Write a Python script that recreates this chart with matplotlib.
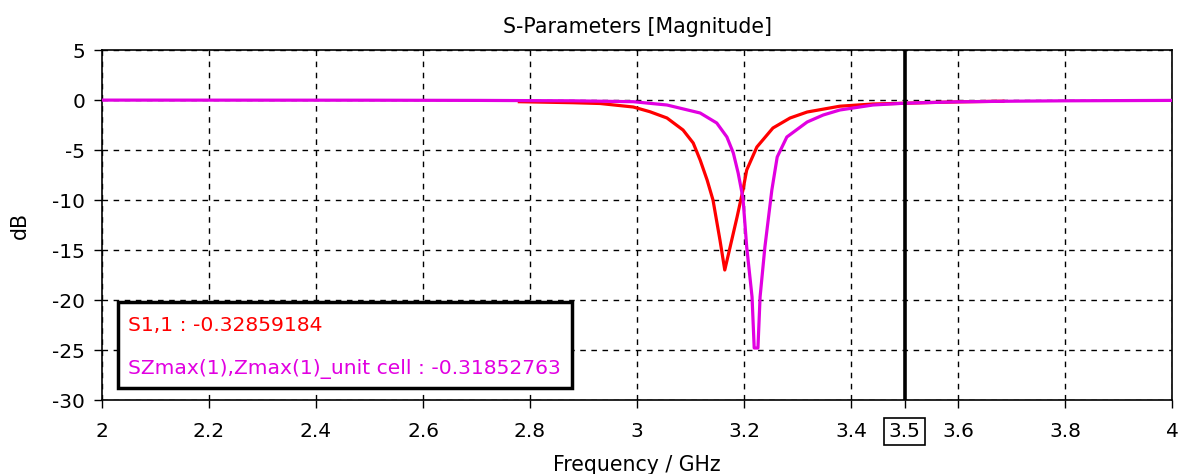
import matplotlib
matplotlib.use("Agg")
import matplotlib.pyplot as plt

# S1,1 of the full structure (red trace), frequency in GHz, magnitude in dB
freq_s11 = [2.78, 2.88, 2.931, 2.993, 3.024, 3.056, 3.086, 3.105, 3.118,
            3.131, 3.142, 3.155, 3.164, 3.174, 3.187, 3.198, 3.205, 3.224,
            3.254, 3.286, 3.318, 3.379, 3.441, 3.5, 3.55, 3.60, 3.684]
s11_db = [-0.17, -0.27, -0.35, -0.7, -1.17, -1.8, -3.0, -4.3, -6.0,
          -8.0, -10.0, -14.0, -17.0, -14.7, -11.7, -9.0, -7.0, -4.7,
          -2.8, -1.8, -1.2, -0.62, -0.4, -0.32859184, -0.25, -0.19, -0.12]

# SZmax(1),Zmax(1) of the unit cell (magenta trace)
freq_cell = [2.0, 2.5, 2.707, 2.88, 2.993, 3.056, 3.118, 3.149, 3.168,
             3.180, 3.189, 3.198, 3.205, 3.215, 3.219, 3.226, 3.230, 3.239,
             3.252, 3.262, 3.280, 3.318, 3.348, 3.379, 3.441, 3.5, 3.6, 3.7,
             3.8, 4.0]
cell_db = [-0.01, -0.02, -0.04, -0.08, -0.17, -0.5, -1.3, -2.3, -3.7,
           -5.3, -7.3, -9.8, -14.7, -19.7, -24.8, -24.8, -19.7, -14.7,
           -9.0, -5.7, -3.7, -2.2, -1.5, -1.0, -0.5, -0.31852763, -0.18,
           -0.12, -0.08, -0.04]

marker_freq = 3.5
x_ticks = [2, 2.2, 2.4, 2.6, 2.8, 3, 3.2, 3.4, 3.5, 3.6, 3.8, 4]
x_tick_labels = ["2", "2.2", "2.4", "2.6", "2.8", "3", "3.2", "3.4", "3.5",
                 "3.6", "3.8", "4"]
y_ticks = [5, 0, -5, -10, -15, -20, -25, -30]

red = "#ff0000"
magenta = "#e100e1"

plt.rcParams['font.family'] = ['DejaVu Sans']
plt.rcParams['axes.unicode_minus'] = False
fig = plt.figure(figsize=(11.81, 4.74), dpi=100)
ax = fig.add_axes([0.0864, 0.1561, 0.9060, 0.7384])

ax.plot(freq_s11, s11_db, color=red, lw=2.3, zorder=3)
ax.plot(freq_cell, cell_db, color=magenta, lw=2.3, zorder=4)
ax.axvline(marker_freq, color="black", lw=2.6, zorder=5)

ax.set_xlim(2, 4)
ax.set_ylim(-30, 5)
ax.set_xticks(x_ticks)
ax.set_xticklabels(x_tick_labels)
ax.set_yticks(y_ticks)
ax.tick_params(direction="out", length=6, width=1, labelsize=14.5)
ax.tick_params(axis="x", pad=10)
ax.tick_params(axis="y", pad=6)
for spine in ax.spines.values():
    spine.set_linewidth(1.2)

# dashed grid, but not on the marker tick
ax.grid(True, color="black", ls=(0, (4, 4)), lw=1, zorder=1)
for tick, gl in zip(x_ticks, ax.get_xgridlines()):
    if tick == marker_freq:
        gl.set_visible(False)

# box around the marker tick label
for tick, lab in zip(x_ticks, ax.get_xticklabels()):
    if tick == marker_freq:
        lab.set_bbox(dict(facecolor="white", edgecolor="black", lw=1.2,
                          pad=3))

ax.set_title("S-Parameters [Magnitude]", fontsize=14.8, pad=12)
ax.set_xlabel("Frequency / GHz", fontsize=14.8, labelpad=10)
ax.set_ylabel("dB", fontsize=14.8, labelpad=16)

# marker readout box
ax.text(0.024, 0.214, "S1,1 : -0.32859184", color=red, fontsize=14.6,
        transform=ax.transAxes, va="center", zorder=7)
ax.text(0.024, 0.089, "SZmax(1),Zmax(1)_unit cell : -0.31852763",
        color=magenta, fontsize=14.6, transform=ax.transAxes, va="center",
        zorder=7)
box = plt.Rectangle((0.015, 0.034), 0.424, 0.246, transform=ax.transAxes,
                    facecolor="white", edgecolor="black", lw=2.5, zorder=6)
ax.add_patch(box)

fig.savefig("out.png", dpi=100)
